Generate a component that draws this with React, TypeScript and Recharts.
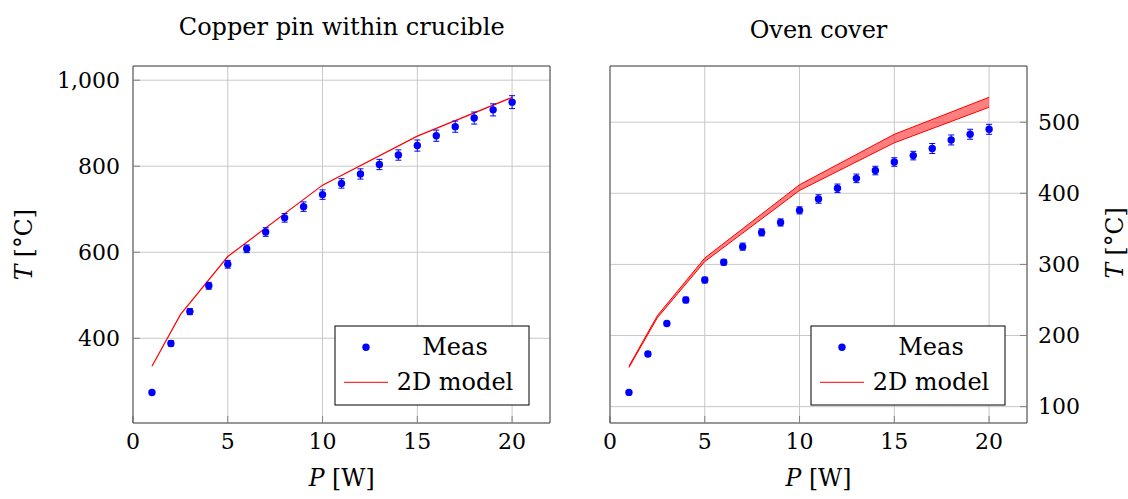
import React from "react";
import {
  ComposedChart,
  XAxis,
  YAxis,
  CartesianGrid,
  Scatter,
  ErrorBar,
  Line,
  Area,
} from "recharts";

// heating power [W] of the measurements
const POWER = [1, 2, 3, 4, 5, 6, 7, 8, 9, 10, 11, 12, 13, 14, 15, 16, 17, 18, 19, 20];

// copper pin within crucible
const COPPER_MEAS = [274, 388, 462, 522, 572, 608, 647, 680, 706, 734, 760, 782, 804, 826, 848, 871, 892, 912, 931, 949];
const COPPER_ERR = [4, 6, 7, 8, 9, 9, 10, 10, 11, 11, 11, 12, 12, 12, 13, 13, 13, 14, 14, 15];
const COPPER_MODEL_P = [1, 2.5, 5, 10, 15, 20];
const COPPER_MODEL = [335, 455, 590, 756, 870, 960];

// oven cover
const OVEN_MEAS = [120, 174, 217, 250, 278, 303, 325, 345, 359, 376, 392, 407, 421, 432, 444, 453, 463, 475, 483, 490];
const OVEN_ERR = [2, 3, 3, 4, 4, 4, 5, 5, 5, 5, 6, 6, 6, 6, 6, 6, 7, 7, 7, 7];
const OVEN_MODEL_P = [1, 2.5, 5, 10, 15, 20];
const OVEN_MODEL_LOW = [155, 225, 304, 404, 471, 521];
const OVEN_MODEL_HIGH = [157, 228, 309, 412, 483, 535];

const P_TICKS = [0, 5, 10, 15, 20];
const COPPER_T_TICKS = [400, 600, 800, 1000];
const OVEN_T_TICKS = [100, 200, 300, 400, 500];

const FONT = "DejaVu Serif";
const FRAME = "#4d4d4d";
const TICK = "#808080";
const GRID = "#c8c8c8";
const BLUE = "#0000ff";
const RED = "#ff0000";

const copperMeas = POWER.map((p, i) => ({ p, t: COPPER_MEAS[i], err: COPPER_ERR[i] }));
const copperModel = COPPER_MODEL_P.map((p, i) => ({ p, t: COPPER_MODEL[i] }));
const ovenMeas = POWER.map((p, i) => ({ p, t: OVEN_MEAS[i], err: OVEN_ERR[i] }));
const ovenBand = OVEN_MODEL_P.map((p, i) => ({ p, band: [OVEN_MODEL_LOW[i], OVEN_MODEL_HIGH[i]] }));

const dot = (props: any) => <circle cx={props.cx} cy={props.cy} r={3.7} fill={BLUE} />;

const tickFont = { fill: "#000", fontSize: 22, fontFamily: FONT };

function xAxes() {
  return [
    <XAxis
      key="b"
      xAxisId="b"
      dataKey="p"
      type="number"
      domain={[0, 22]}
      allowDataOverflow
      ticks={P_TICKS}
      interval={0}
      height={76}
      tickSize={-7}
      tickMargin={17}
      axisLine={{ stroke: FRAME }}
      tickLine={{ stroke: TICK }}
      tick={tickFont}
    />,
    <XAxis
      key="t"
      xAxisId="t"
      orientation="top"
      dataKey="p"
      type="number"
      domain={[0, 22]}
      allowDataOverflow
      ticks={P_TICKS}
      interval={0}
      height={1}
      tickSize={-7}
      axisLine={{ stroke: FRAME }}
      tickLine={{ stroke: TICK }}
      tick={false}
    />,
  ];
}

function CopperPanel() {
  const dom: [number, number] = [203, 1033];
  return (
    <ComposedChart width={560} height={499} margin={{ top: 65, right: 0, bottom: 0, left: 0 }}>
      <CartesianGrid xAxisId="b" yAxisId="l" stroke={GRID} />
      {xAxes()}
      <YAxis
        yAxisId="l"
        type="number"
        domain={dom}
        allowDataOverflow
        ticks={COPPER_T_TICKS}
        interval={0}
        width={133}
        tickSize={-7}
        tickMargin={20}
        axisLine={{ stroke: FRAME }}
        tickLine={{ stroke: TICK }}
        tick={tickFont}
        tickFormatter={(v: number) => v.toLocaleString("en-US")}
      />
      <YAxis
        yAxisId="r"
        orientation="right"
        type="number"
        domain={dom}
        allowDataOverflow
        ticks={COPPER_T_TICKS}
        interval={0}
        width={10}
        tickSize={-7}
        axisLine={{ stroke: FRAME }}
        tickLine={{ stroke: TICK }}
        tick={false}
      />
      <Line
        xAxisId="b"
        yAxisId="l"
        data={copperModel}
        dataKey="t"
        type="linear"
        stroke={RED}
        strokeWidth={1.2}
        dot={false}
        isAnimationActive={false}
      />
      <Scatter xAxisId="b" yAxisId="l" data={copperMeas} dataKey="t" shape={dot} isAnimationActive={false}>
        <ErrorBar dataKey="err" direction="y" width={3} stroke={BLUE} strokeWidth={1} isAnimationActive={false} />
      </Scatter>
    </ComposedChart>
  );
}

function OvenPanel() {
  const dom: [number, number] = [77, 579];
  return (
    <ComposedChart width={568} height={499} margin={{ top: 65, right: 0, bottom: 0, left: 0 }}>
      <CartesianGrid xAxisId="b" yAxisId="r" stroke={GRID} />
      {xAxes()}
      <YAxis
        yAxisId="l"
        type="number"
        domain={dom}
        allowDataOverflow
        ticks={OVEN_T_TICKS}
        interval={0}
        width={50}
        tickSize={-7}
        axisLine={{ stroke: FRAME }}
        tickLine={{ stroke: TICK }}
        tick={false}
      />
      <YAxis
        yAxisId="r"
        orientation="right"
        type="number"
        domain={dom}
        allowDataOverflow
        ticks={OVEN_T_TICKS}
        interval={0}
        width={101}
        tickSize={-7}
        tickMargin={18}
        axisLine={{ stroke: FRAME }}
        tickLine={{ stroke: TICK }}
        tick={tickFont}
      />
      <Area
        xAxisId="b"
        yAxisId="r"
        data={ovenBand}
        dataKey="band"
        type="linear"
        stroke={RED}
        strokeWidth={1}
        fill={RED}
        fillOpacity={0.5}
        dot={false}
        activeDot={false}
        isAnimationActive={false}
      />
      <Scatter xAxisId="b" yAxisId="r" data={ovenMeas} dataKey="t" shape={dot} isAnimationActive={false}>
        <ErrorBar dataKey="err" direction="y" width={3} stroke={BLUE} strokeWidth={1} isAnimationActive={false} />
      </Scatter>
    </ComposedChart>
  );
}

function LegendBox({ x }: { x: number }) {
  return (
    <g>
      <rect x={x} y={326} width={194} height={79} fill="#fff" stroke="#000" strokeWidth={1} />
      <circle cx={x + 31} cy={347.3} r={3.7} fill={BLUE} />
      <text x={x + 120} y={355} textAnchor="middle" fontSize={24}>
        Meas
      </text>
      <line x1={x + 9} x2={x + 53} y1={382.3} y2={382.3} stroke={RED} strokeWidth={1} />
      <text x={x + 120} y={390} textAnchor="middle" fontSize={24}>
        2D model
      </text>
    </g>
  );
}

export default function App() {
  return (
    <div style={{ position: "absolute", left: 0, top: 0, width: 1128, height: 499, background: "#fff", fontFamily: FONT }}>
      <div style={{ position: "absolute", left: 0, top: 0 }}>
        <CopperPanel />
      </div>
      <div style={{ position: "absolute", left: 560, top: 0 }}>
        <OvenPanel />
      </div>
      <svg
        width={1128}
        height={499}
        style={{ position: "absolute", left: 0, top: 0, pointerEvents: "none" }}
        fontFamily={FONT}
        fill="#000"
      >
        <text x={341.7} y={35} textAnchor="middle" fontSize={24}>
          Copper pin within crucible
        </text>
        <text x={818.5} y={38} textAnchor="middle" fontSize={24}>
          Oven cover
        </text>
        <text x={341.7} y={486} textAnchor="middle" fontSize={23.5}>
          <tspan fontStyle="italic">P</tspan> [W]
        </text>
        <text x={818.5} y={486} textAnchor="middle" fontSize={23.5}>
          <tspan fontStyle="italic">P</tspan> [W]
        </text>
        <text transform="translate(32,244.7) rotate(-90)" textAnchor="middle" fontSize={23.5}>
          <tspan fontStyle="italic">T</tspan> [°C]
        </text>
        <text transform="translate(1123,243) rotate(-90)" textAnchor="middle" fontSize={23.5}>
          <tspan fontStyle="italic">T</tspan> [°C]
        </text>
        <LegendBox x={335} />
        <LegendBox x={811} />
      </svg>
    </div>
  );
}
